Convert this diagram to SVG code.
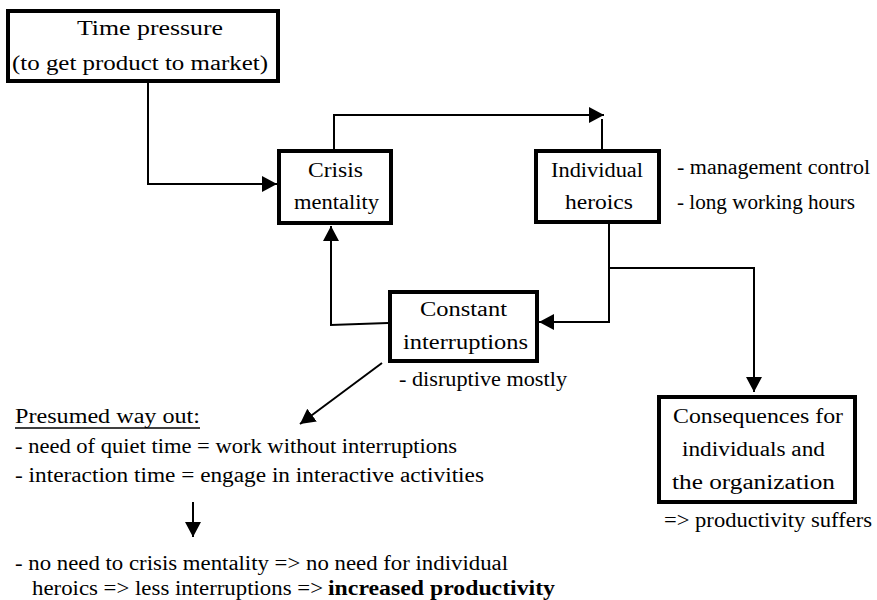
<svg xmlns="http://www.w3.org/2000/svg" width="877" height="600" viewBox="0 0 877 600">
<defs>
<marker id="ah" markerUnits="userSpaceOnUse" markerWidth="16" markerHeight="18" refX="15" refY="8" orient="auto">
<path d="M0,0 L15,8 L0,16 Z" fill="#000"/>
</marker>
<style>
.box{fill:#fff;stroke:#000;stroke-width:4}
.t{font-family:'Liberation Serif','Times New Roman','DejaVu Serif','Noto Serif',serif;font-size:20px;fill:#000}
.c{text-anchor:middle}
.b{font-weight:bold}
.ln{fill:none;stroke:#000;stroke-width:2}
.ar{fill:none;stroke:#000;stroke-width:2;marker-end:url(#ah)}
</style>
</defs>
<rect width="877" height="600" fill="#fff"/>

<g id="connectors">
<polyline class="ar" points="148,83 148,184 277,184"/>
<polyline class="ar" points="334,149 334,115 604,115"/>
<line class="ln" x1="602" y1="119" x2="602" y2="149"/>
<polyline class="ar" points="388,323 331,325 331,226"/>
<polyline class="ar" points="609,223 609,322 539,322"/>
<polyline class="ar" points="609,268 754,268 754,392"/>
<line class="ar" x1="382" y1="363" x2="300" y2="424"/>
<line class="ar" x1="193" y1="502" x2="193" y2="537"/>
</g>

<g id="time-pressure">
<rect class="box" x="8" y="11" width="270" height="70"/>
<text class="t" x="77" y="35" textLength="146" lengthAdjust="spacingAndGlyphs">Time pressure</text>
<text class="t" x="12" y="70" textLength="256" lengthAdjust="spacingAndGlyphs">(to get product to market)</text>
</g>

<g id="crisis-mentality">
<rect class="box" x="279" y="151" width="112" height="72"/>
<text class="t" x="308" y="177" textLength="55" lengthAdjust="spacingAndGlyphs">Crisis</text>
<text class="t" x="294" y="209" textLength="85" lengthAdjust="spacingAndGlyphs">mentality</text>
</g>

<g id="individual-heroics">
<rect class="box" x="536" y="151" width="123" height="71"/>
<text class="t" x="551" y="177" textLength="92" lengthAdjust="spacingAndGlyphs">Individual</text>
<text class="t" x="565" y="209" textLength="68" lengthAdjust="spacingAndGlyphs">heroics</text>
<text class="t" x="677" y="174" textLength="193" lengthAdjust="spacingAndGlyphs">- management control</text>
<text class="t" x="677" y="209" textLength="178" lengthAdjust="spacingAndGlyphs">- long working hours</text>
</g>

<g id="constant-interruptions">
<rect class="box" x="390" y="292" width="147" height="69"/>
<text class="t" x="420" y="316" textLength="87" lengthAdjust="spacingAndGlyphs">Constant</text>
<text class="t" x="403" y="349" textLength="125" lengthAdjust="spacingAndGlyphs">interruptions</text>
<text class="t" x="399" y="386" textLength="168" lengthAdjust="spacingAndGlyphs">- disruptive mostly</text>
</g>

<g id="consequences">
<rect class="box" x="659" y="397" width="196" height="105"/>
<text class="t" x="673" y="423" textLength="170" lengthAdjust="spacingAndGlyphs">Consequences for</text>
<text class="t" x="682" y="456" textLength="143" lengthAdjust="spacingAndGlyphs">individuals and</text>
<text class="t" x="672" y="489" textLength="163" lengthAdjust="spacingAndGlyphs">the organization</text>
<text class="t" x="664" y="527" textLength="208" lengthAdjust="spacingAndGlyphs">=&gt; productivity suffers</text>
</g>

<g id="way-out">
<text class="t" x="15" y="423" textLength="185" lengthAdjust="spacingAndGlyphs">Presumed way out:</text>
<line x1="15" y1="428" x2="200" y2="428" stroke="#000" stroke-width="1.5"/>
<text class="t" x="15" y="453" textLength="442" lengthAdjust="spacingAndGlyphs">- need of quiet time = work without interruptions</text>
<text class="t" x="15" y="482" textLength="469" lengthAdjust="spacingAndGlyphs">- interaction time = engage in interactive activities</text>
<text class="t" x="15" y="570" textLength="493" lengthAdjust="spacingAndGlyphs">- no need to crisis mentality =&gt; no need for individual</text>
<text class="t" x="32" y="595" textLength="291" lengthAdjust="spacingAndGlyphs">heroics =&gt; less interruptions =&gt;</text>
<text class="t b" x="328" y="595" textLength="227" lengthAdjust="spacingAndGlyphs">increased productivity</text>
</g>
</svg>
